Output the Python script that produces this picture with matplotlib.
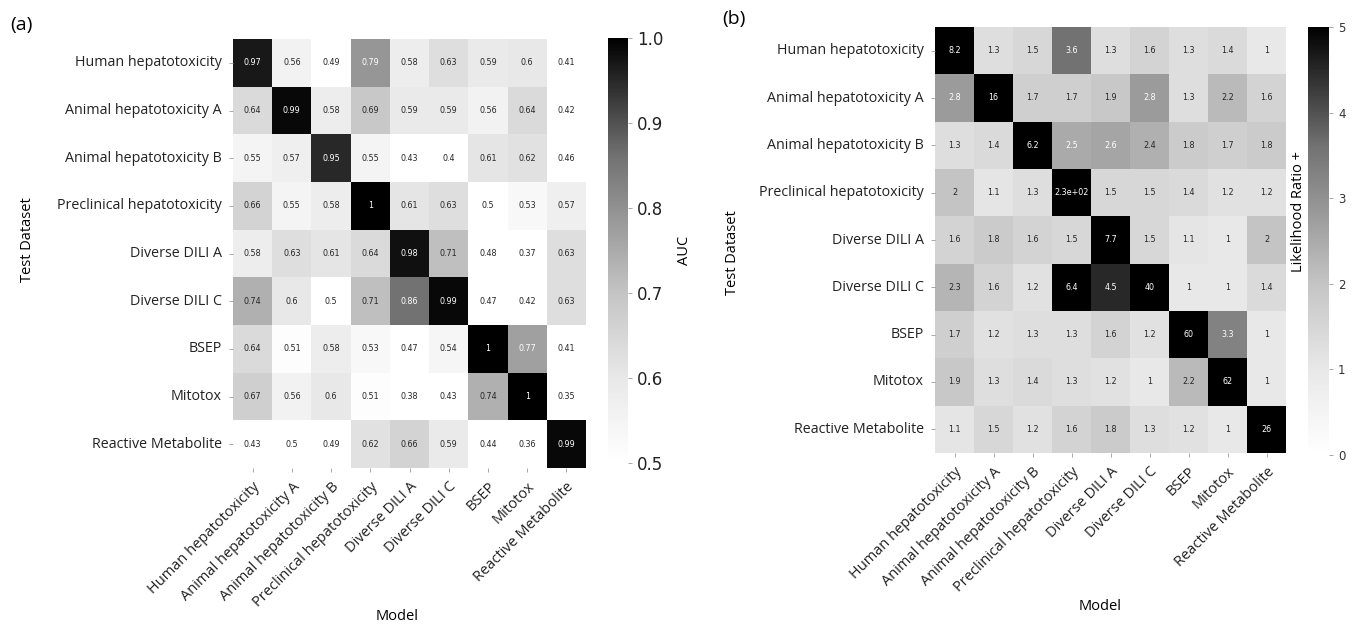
import numpy as np
import matplotlib
matplotlib.use("Agg")
import matplotlib.pyplot as plt
from matplotlib.colors import LinearSegmentedColormap
import seaborn as sns

names = ["Human hepatotoxicity", "Animal hepatotoxicity A", "Animal hepatotoxicity B",
         "Preclinical hepatotoxicity", "Diverse DILI A", "Diverse DILI C",
         "BSEP", "Mitotox", "Reactive Metabolite"]

# rows = test dataset, columns = model
auc = np.array([
    [0.97, 0.56, 0.49, 0.79, 0.58, 0.63, 0.59, 0.60, 0.41],
    [0.64, 0.99, 0.58, 0.69, 0.59, 0.59, 0.56, 0.64, 0.42],
    [0.55, 0.57, 0.95, 0.55, 0.43, 0.40, 0.61, 0.62, 0.46],
    [0.66, 0.55, 0.58, 1.00, 0.61, 0.63, 0.50, 0.53, 0.57],
    [0.58, 0.63, 0.61, 0.64, 0.98, 0.71, 0.48, 0.37, 0.63],
    [0.74, 0.60, 0.50, 0.71, 0.86, 0.99, 0.47, 0.42, 0.63],
    [0.64, 0.51, 0.58, 0.53, 0.47, 0.54, 1.00, 0.77, 0.41],
    [0.67, 0.56, 0.60, 0.51, 0.38, 0.43, 0.74, 1.00, 0.35],
    [0.43, 0.50, 0.49, 0.62, 0.66, 0.59, 0.44, 0.36, 0.99],
])

lr_plus = np.array([
    [8.2, 1.3, 1.5, 3.6, 1.3, 1.6, 1.3, 1.4, 1.0],
    [2.8, 16, 1.7, 1.7, 1.9, 2.8, 1.3, 2.2, 1.6],
    [1.3, 1.4, 6.2, 2.5, 2.6, 2.4, 1.8, 1.7, 1.8],
    [2.0, 1.1, 1.3, 230, 1.5, 1.5, 1.4, 1.2, 1.2],
    [1.6, 1.8, 1.6, 1.5, 7.7, 1.5, 1.1, 1.0, 2.0],
    [2.3, 1.6, 1.2, 6.4, 4.5, 40, 1.0, 1.0, 1.4],
    [1.7, 1.2, 1.3, 1.3, 1.6, 1.2, 60, 3.3, 1.0],
    [1.9, 1.3, 1.4, 1.3, 1.2, 1.0, 2.2, 62, 1.0],
    [1.1, 1.5, 1.2, 1.6, 1.8, 1.3, 1.2, 1.0, 26],
])

# grey ramp, a touch lighter than mpl "Greys"
ramp = [(0.0, 1.0), (0.2, 0.91), (0.4, 0.77), (0.56, 0.61),
        (0.72, 0.45), (0.9, 0.16), (1.0, 0.0)]
cmap = LinearSegmentedColormap.from_list("lightgreys", [(p, (g, g, g)) for p, g in ramp])

W, H = 1359, 625
fig = plt.figure(figsize=(W / 100, H / 100), dpi=100)


def box(x0, y0, x1, y1):
    # pixel box -> figure fraction
    return [x0 / W, 1 - y1 / H, (x1 - x0) / W, (y1 - y0) / H]


lab_font = "Open Sans"


def panel(data, vmin, vmax, hm_box, cb_box):
    ax = fig.add_axes(box(*hm_box))
    cax = fig.add_axes(box(*cb_box))
    sns.heatmap(data, ax=ax, cbar_ax=cax, cmap=cmap, vmin=vmin, vmax=vmax,
                annot=True, fmt=".2g", annot_kws={"size": 5.8},
                xticklabels=names, yticklabels=names)
    ax.tick_params(axis="both", length=3, width=0.6, color="#999999", pad=5)
    for t in ax.get_xticklabels():
        t.set_rotation(45)
        t.set_ha("right")
        t.set_rotation_mode("anchor")
        t.set_fontfamily(lab_font)
        t.set_fontsize(10.5)
        t.set_color("#222222")
    for t in ax.get_yticklabels():
        t.set_rotation(0)
        t.set_fontfamily(lab_font)
        t.set_fontsize(10.3)
        t.set_color("#222222")
    cax.tick_params(length=3, width=0.6, color="#999999")
    return ax, cax


ax1, cax1 = panel(auc, 0.5, 1.0, (233, 39, 586, 468), (608, 38, 628, 463))
cax1.set_yticks([0.5, 0.6, 0.7, 0.8, 0.9, 1.0])
cax1.set_yticklabels(["0.5", "0.6", "0.7", "0.8", "0.9", "1.0"], fontsize=12, color="#222222")
cax1.set_ylabel("AUC", fontfamily=lab_font, fontsize=10.5, labelpad=10)

ax2, cax2 = panel(lr_plus, 0, 5, (935, 27, 1286, 453), (1308, 27, 1329, 455))
cax2.set_yticks([0, 1, 2, 3, 4, 5])
cax2.set_yticklabels(["0", "1", "2", "3", "4", "5"], fontsize=8.5, color="#333333")
fig.text(1299 / W, 1 - 212 / H, "Likelihood Ratio +", rotation=90, ha="center", va="center",
         fontfamily=lab_font, fontsize=10.5)

fig.text(10 / W, 1 - 25 / H, "(a)", fontfamily=lab_font, fontsize=14, va="center")
fig.text(722 / W, 1 - 19 / H, "(b)", fontfamily=lab_font, fontsize=14, va="center")
fig.text(28 / W, 1 - 240 / H, "Test Dataset", rotation=90, ha="center", va="center",
         fontfamily=lab_font, fontsize=10.5)
fig.text(733 / W, 1 - 253 / H, "Test Dataset", rotation=90, ha="center", va="center",
         fontfamily=lab_font, fontsize=10.5)
fig.text(397 / W, 1 - 617 / H, "Model", ha="center", va="center",
         fontfamily=lab_font, fontsize=10.5)
fig.text(1100 / W, 1 - 607 / H, "Model", ha="center", va="center",
         fontfamily=lab_font, fontsize=10.5)

fig.savefig("out.png", dpi=100)
